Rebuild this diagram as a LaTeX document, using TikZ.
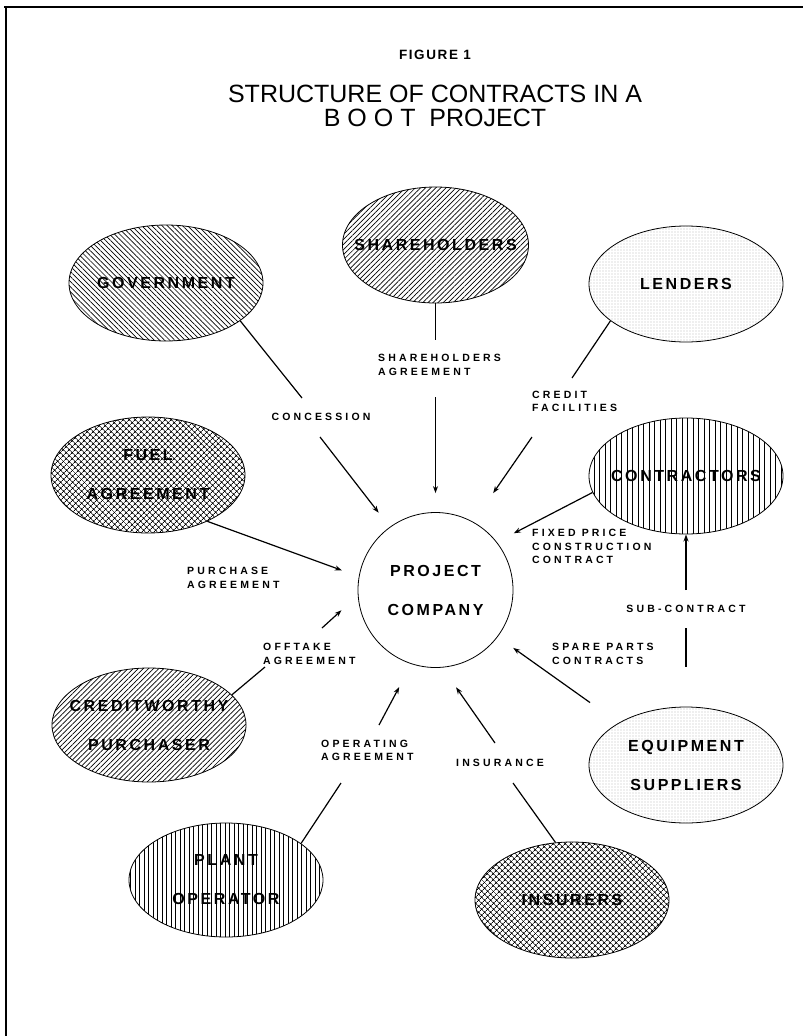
\documentclass[tikz,border=0pt]{standalone}
\usepackage{fontspec}
\setmainfont{Liberation Sans}
\newfontfamily\labfont[LetterSpace=30]{Liberation Sans}
\newfontfamily\elfont[LetterSpace=16]{Liberation Sans}
\newfontfamily\figfont[LetterSpace=12]{Liberation Sans}
\usetikzlibrary{shapes.geometric,patterns.meta,arrows.meta}
\begin{document}
\begin{tikzpicture}[x=1pt,y=-1pt,
  ell/.style={ellipse, draw, line width=0.8pt, minimum width=194pt, minimum height=116pt, inner sep=0pt},
  eltext/.style={font={\elfont\bfseries\fontsize{16pt}{39pt}\selectfont}, align=center, inner sep=0pt},
  lab/.style={font={\labfont\bfseries\fontsize{10.5pt}{13.5pt}\selectfont}, align=left, inner sep=0pt, anchor=west},
  labc/.style={font={\labfont\bfseries\fontsize{10.5pt}{13.5pt}\selectfont}, inner sep=0pt},
  conn/.style={line width=1.2pt},
  arr/.style={conn, -{Stealth[length=7pt,width=5pt]}},
  hNE/.style={pattern={Lines[angle=45,distance=3.6pt,line width=0.7pt]}},
  hNW/.style={pattern={Lines[angle=-45,distance=3.6pt,line width=0.7pt]}},
  hVwide/.style={pattern={Lines[angle=90,distance=5.5pt,line width=0.9pt]}},
  hVnarrow/.style={pattern={Lines[angle=90,distance=4.5pt,line width=0.9pt]}},
  hX/.style={pattern={Hatch[angle=45,distance=4pt,line width=0.8pt]}},
  hD/.style={pattern={Dots[distance=3pt,radius=0.4pt]}, pattern color=black!75},
]
\fill[white] (0,0) rectangle (803,1036);
\useasboundingbox (0,0) rectangle (803,1036);

% frame of the scanned page
\draw[line width=1.2pt] (4,7) -- (803,7);
\draw[line width=1.4pt] (6,7) -- (6,1036);

% titles
\node[font={\figfont\bfseries\fontsize{13.5pt}{16pt}\selectfont}] (fig) at (435,55) {FIGURE 1};
\node[font={\fontsize{25pt}{30pt}\selectfont}] (t1) at (435,94) {STRUCTURE OF CONTRACTS IN A};
\node[font={\fontsize{25pt}{30pt}\selectfont}] (t2) at (435,117.5) {B O O T\ \ PROJECT};

% central node
\node[circle, draw, line width=0.8pt, minimum size=155pt, inner sep=0pt,
      font={\elfont\bfseries\fontsize{16pt}{39pt}\selectfont}, align=center] (pc) at (435.5,590) {PROJECT\\COMPANY};

% parties
\node[ell,hNW] (gov) at (166,283) {};
\node[eltext] (govt) at (gov) {GOVERNMENT};
\node[ell,hNE,minimum width=186pt] (sh) at (435.5,245) {};
\node[eltext] (sht) at (sh) {SHAREHOLDERS};
\node[ell,hD] (len) at (686,284) {};
\node[eltext] (lent) at (len) {LENDERS};
\node[ell,hX] (fuel) at (148,475) {};
\node[eltext] (fuelt) at (fuel) {FUEL\\AGREEMENT};
\node[ell,hVwide] (con) at (686,476) {};
\node[eltext] (cont) at (con) {CONTRACTORS};
\node[ell,hNE,minimum height=114pt] (cw) at (149,725) {};
\node[eltext] (cwt) at (cw) {CREDITWORTHY\\PURCHASER};
\node[ell,hVnarrow,minimum height=114pt] (plant) at (226,880) {};
\node[eltext] (plantt) at (plant) {PLANT\\OPERATOR};
\node[ell,hX] (ins) at (572,900) {};
\node[eltext] (inst) at (ins) {INSURERS};
\node[ell,hD] (eq) at (686,765) {};
\node[eltext] (eqt) at (eq) {EQUIPMENT\\SUPPLIERS};

% connector labels
\node[lab] (lsh) at (378,365) {SHAREHOLDERS\\AGREEMENT};
\node[labc] (lconc) at (321,417) {CONCESSION};
\node[lab] (lcred) at (532,401.5) {CREDIT\\FACILITIES};
\node[lab] (lfix) at (532,546.5) {FIXED PRICE\\CONSTRUCTION\\CONTRACT};
\node[lab] (lpur) at (187,578) {PURCHASE\\AGREEMENT};
\node[lab] (loff) at (263,654) {OFFTAKE\\AGREEMENT};
\node[labc] (lsub) at (686,609) {SUB-CONTRACT};
\node[lab] (lspare) at (552,654) {SPARE PARTS\\CONTRACTS};
\node[lab] (lop) at (321,750.5) {OPERATING\\AGREEMENT};
\node[labc] (lins) at (500,763) {INSURANCE};

% break points of the connectors around their labels
\coordinate (ga) at (302,398);   \coordinate (gb) at (320,437);
\coordinate (sa) at (435.5,340); \coordinate (sb) at (435.5,397);
\coordinate (la) at (572,378);   \coordinate (lb) at (532,437);
\coordinate (oa) at (265,667);   \coordinate (ob) at (322,628);
\coordinate (pa) at (341,783);   \coordinate (pb) at (379,725);
\coordinate (ia) at (513,783);   \coordinate (ib) at (495,743);
\coordinate (ua) at (686,628);   \coordinate (ub) at (686,590);

% connectors
\draw[conn] (gov.-27) -- (ga);
\draw[arr, shorten >=18pt] (gb) -- (pc.126);
\draw[conn] (sh.south) -- (sa);
\draw[arr, shorten >=19pt] (sb) -- (pc.north);
\draw[conn] (len.206) -- (la);
\draw[arr, shorten >=35pt] (lb) -- (pc.61);
\draw[arr, shorten >=19pt] (con.190) -- (pc.38);
\draw[arr, shorten >=18pt] (fuel.-38) -- (pc.170);
\draw[conn] (cw.20) -- (oa);
\draw[arr, shorten >=22pt] (ob) -- (pc.184);
\draw[conn] (plant.26) -- (pa);
\draw[arr, shorten >=26pt] (pb) -- (pc.252);
\draw[conn] (ins.106) -- (ia);
\draw[arr, shorten >=24pt] (ib) -- (pc.275);
\draw[arr, shorten <=35pt, shorten >=19pt] (eq.148) -- (pc.-37);
\draw[conn, shorten <=40pt] (eq.north) -- (ua);
\draw[arr] (ub) -- (con.south);
\end{tikzpicture}
\end{document}
